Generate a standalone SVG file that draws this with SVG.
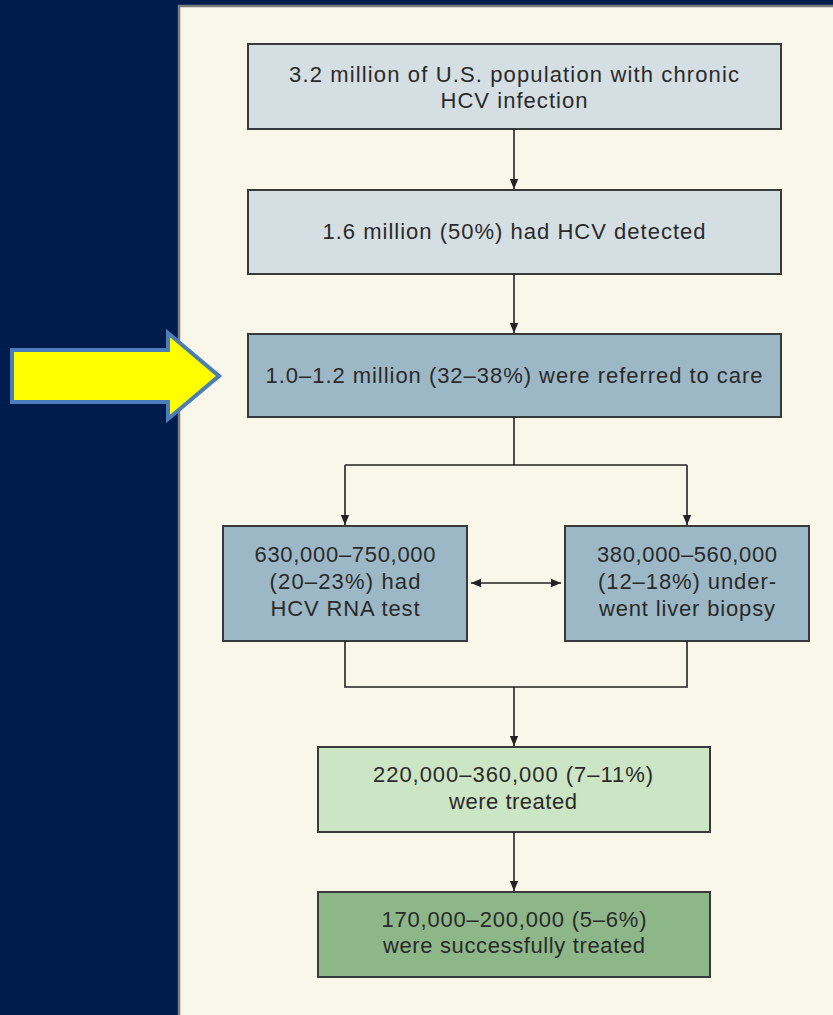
<svg xmlns="http://www.w3.org/2000/svg" width="833" height="1015" viewBox="0 0 833 1015">
<defs>
<style>
.t{font-family:"Liberation Sans","Arial",sans-serif;font-size:22px;fill:#2a2a2a;text-anchor:middle}
.b{stroke:#3a3a3a;stroke-width:2}
.c{stroke:#222;stroke-width:1.6;fill:none}
</style>
<marker id="ah" markerWidth="10" markerHeight="11" refX="12" refY="5" orient="auto-start-reverse" markerUnits="userSpaceOnUse" viewBox="0 0 12 10"><path d="M0,0 L12,5 L0,10 z" fill="#222"/></marker>
</defs>
<rect width="833" height="1015" fill="#001c4c"/>
<rect x="179" y="6" width="660" height="1015" fill="#f9f6ea" stroke="#7a7a7a" stroke-width="2.5"/>
<g id="highlight-arrow"><path d="M12,350 H168 V333 L219,376 L168,419 V402 H12 Z" fill="#ffff00" stroke="#4a7ebb" stroke-width="4"/></g>
<g id="n1"><rect class="b" x="248" y="44" width="533" height="85" fill="#d5dee2"/><text class="t" x="514" y="82" textLength="450" lengthAdjust="spacing">3.2 million of U.S. population with chronic</text><text class="t" x="514" y="108" textLength="147" lengthAdjust="spacing">HCV infection</text></g>
<g id="n2"><rect class="b" x="248" y="190" width="533" height="84" fill="#d5dee2"/><text class="t" x="514" y="239" textLength="383" lengthAdjust="spacing">1.6 million (50%) had HCV detected</text></g>
<g id="n3"><rect class="b" x="248" y="334" width="533" height="83" fill="#9cb8c6"/><text class="t" x="514" y="383" textLength="497" lengthAdjust="spacing">1.0–1.2 million (32–38%) were referred to care</text></g>
<g id="n4"><rect class="b" x="223" y="526" width="244" height="115" fill="#9cb8c6"/><text class="t" x="345" y="562" textLength="181" lengthAdjust="spacing">630,000–750,000</text><text class="t" x="345" y="589" textLength="151" lengthAdjust="spacing">(20–23%) had</text><text class="t" x="345" y="616" textLength="149" lengthAdjust="spacing">HCV RNA test</text></g>
<g id="n5"><rect class="b" x="565" y="526" width="244" height="115" fill="#9cb8c6"/><text class="t" x="687" y="562" textLength="180" lengthAdjust="spacing">380,000–560,000</text><text class="t" x="687" y="589" textLength="178" lengthAdjust="spacing">(12–18%) under-</text><text class="t" x="687" y="616" textLength="176" lengthAdjust="spacing">went liver biopsy</text></g>
<g id="n6"><rect class="b" x="318" y="747" width="392" height="85" fill="#cce5c4"/><text class="t" x="513" y="782" textLength="280" lengthAdjust="spacing">220,000–360,000 (7–11%)</text><text class="t" x="513" y="809" textLength="128" lengthAdjust="spacing">were treated</text></g>
<g id="n7"><rect class="b" x="318" y="892" width="392" height="85" fill="#8db789"/><text class="t" x="514" y="927" textLength="265" lengthAdjust="spacing">170,000–200,000 (5–6%)</text><text class="t" x="514" y="953" textLength="262" lengthAdjust="spacing">were successfully treated</text></g>
<g id="connectors">
<path class="c" d="M514,129 V189" marker-end="url(#ah)"/>
<path class="c" d="M514,274 V333" marker-end="url(#ah)"/>
<path class="c" d="M514,417 V465"/>
<path class="c" d="M345,465 H687"/>
<path class="c" d="M345,465 V525" marker-end="url(#ah)"/>
<path class="c" d="M687,465 V525" marker-end="url(#ah)"/>
<path class="c" d="M471,583 H561" marker-start="url(#ah)" marker-end="url(#ah)"/>
<path class="c" d="M345,641 V687 H687 V641"/>
<path class="c" d="M514,687 V746" marker-end="url(#ah)"/>
<path class="c" d="M514,832 V891" marker-end="url(#ah)"/>
</g>
</svg>
